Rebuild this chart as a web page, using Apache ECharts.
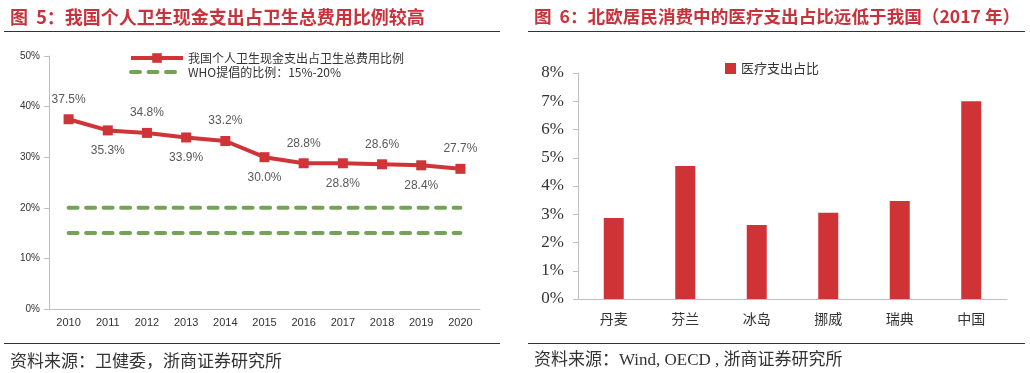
<!DOCTYPE html>
<html><head><meta charset="utf-8">
<script src="https://cdn.jsdelivr.net/npm/echarts@6/dist/echarts.min.js"></script>
<style>html,body{margin:0;padding:0;background:#fff}#c{width:1030px;height:373px}</style>
</head><body><div id="c"></div>
<script>
const years = ['2010','2011','2012','2013','2014','2015','2016','2017','2018','2019','2020'];
const oopShare = [37.5,35.3,34.8,33.9,33.2,30.0,28.8,28.8,28.6,28.4,27.7];
const whoHigh = [20,20,20,20,20,20,20,20,20,20,20];
const whoLow = [15,15,15,15,15,15,15,15,15,15,15];
const countries = ['丹麦','芬兰','冰岛','挪威','瑞典','中国'];
const medShare = [2.87,4.71,2.62,3.05,3.47,7.0];

const leftTitle = '图  5：我国个人卫生现金支出占卫生总费用比例较高';
const rightTitle = '图  6：北欧居民消费中的医疗支出占比远低于我国（2017 年）';
const leftSource = '资料来源：卫健委，浙商证券研究所';
const rightSource = '资料来源：Wind, OECD , 浙商证券研究所';
const lineName = '我国个人卫生现金支出占卫生总费用比例';
const whoName = 'WHO提倡的比例：15%-20%';
const barName = '医疗支出占比';

const RED = '#d13438', GREEN = '#74a256', TITLE = '#c8323b';
const CJK = '"Noto Sans CJK SC", sans-serif';

const chart = echarts.init(document.getElementById('c'), null, {renderer:'canvas'});
const hline = (x1,x2,y)=>({type:'line',shape:{x1,y1:y,x2,y2:y},style:{stroke:'#333',lineWidth:1}});
chart.setOption({
  animation:false,
  textStyle:{fontFamily:CJK},
  title:[
    {text:leftTitle,left:5,top:3,textStyle:{color:TITLE,fontSize:18,fontWeight:'bold',fontFamily:CJK}},
    {text:rightTitle,left:529,top:3,textStyle:{color:TITLE,fontSize:17.6,fontWeight:'bold',fontFamily:CJK}},
    {text:leftSource,left:5,top:347,textStyle:{color:'#333',fontSize:17,fontWeight:'normal',fontFamily:CJK}},
    {text:rightSource,left:529,top:347,textStyle:{color:'#333',fontSize:17,fontWeight:'normal',fontFamily:'"Liberation Serif", '+CJK}}
  ],
  graphic:[hline(4,500,31.5),hline(528,1025,31.5),hline(4,500,343.5),hline(528,1025,343.5)],
  legend:[
    {left:124,top:47,orient:'vertical',itemGap:2,itemWidth:52,itemHeight:12,
     lineStyle:{width:4},
     data:[lineName,{name:whoName,itemStyle:{opacity:0}}],textStyle:{color:'#333',fontSize:12,fontFamily:CJK}},
    {left:720,top:57,itemWidth:11,itemHeight:11,icon:'rect',data:[barName],
     textStyle:{color:'#333',fontSize:13,fontFamily:CJK}}
  ],
  grid:[
    {left:49,top:56,right:550,bottom:64},
    {left:578,top:73,right:23,bottom:74}
  ],
  xAxis:[
    {type:'category',gridIndex:0,data:years,boundaryGap:true,
     axisLine:{lineStyle:{color:'#bfbfbf',width:1}},
     axisTick:{interval:1,length:5,lineStyle:{color:'#bfbfbf'}},
     axisLabel:{interval:0,color:'#333',fontSize:11,margin:8,fontFamily:'"Liberation Sans", sans-serif'}},
    {type:'category',gridIndex:1,data:countries,boundaryGap:true,
     axisLine:{lineStyle:{color:'#bfbfbf',width:1}},
     axisTick:{length:5,lineStyle:{color:'#bfbfbf'}},
     axisLabel:{interval:0,color:'#333',fontSize:14,margin:13,fontFamily:CJK}}
  ],
  yAxis:[
    {type:'value',gridIndex:0,min:0,max:50,interval:10,
     axisLine:{show:true,lineStyle:{color:'#bfbfbf'}},
     axisTick:{show:true,length:5,lineStyle:{color:'#bfbfbf'}},
     splitLine:{show:false},
     axisLabel:{formatter:'{value}%',color:'#333',fontSize:10,margin:9,fontFamily:'"Liberation Sans", sans-serif'}},
    {type:'value',gridIndex:1,min:0,max:8,interval:1,
     axisLine:{show:true,lineStyle:{color:'#bfbfbf'}},
     axisTick:{show:true,length:5,lineStyle:{color:'#bfbfbf'}},
     splitLine:{show:false},
     axisLabel:{formatter:'{value}%',color:'#333',fontSize:17,margin:14,fontFamily:'"Liberation Serif", serif'}}
  ],
  series:[
    {name:lineName,type:'line',xAxisIndex:0,yAxisIndex:0,
     data:oopShare.map((v,i)=>({value:v,label:{position:i%2===0?'top':'bottom'}})),
     symbol:'rect',symbolSize:10,
     lineStyle:{color:RED,width:4},itemStyle:{color:RED},
     label:{show:true,distance:9,color:'#595959',fontSize:12,fontFamily:'"Liberation Sans", sans-serif',
       formatter:p=>p.value.toFixed(1)+'%'},z:3},
    {name:whoName,type:'line',xAxisIndex:0,yAxisIndex:0,data:whoHigh,symbol:'none',
     lineStyle:{color:GREEN,width:4,type:[9,8.5],cap:'round'},itemStyle:{color:GREEN}},
    {name:whoName,type:'line',xAxisIndex:0,yAxisIndex:0,data:whoLow,symbol:'none',
     lineStyle:{color:GREEN,width:4,type:[9,8.5],cap:'round'},itemStyle:{color:GREEN}},
    {name:barName,type:'bar',xAxisIndex:1,yAxisIndex:1,data:medShare,barWidth:20,
     itemStyle:{color:'#d03336'}}
  ]
});
</script></body></html>
